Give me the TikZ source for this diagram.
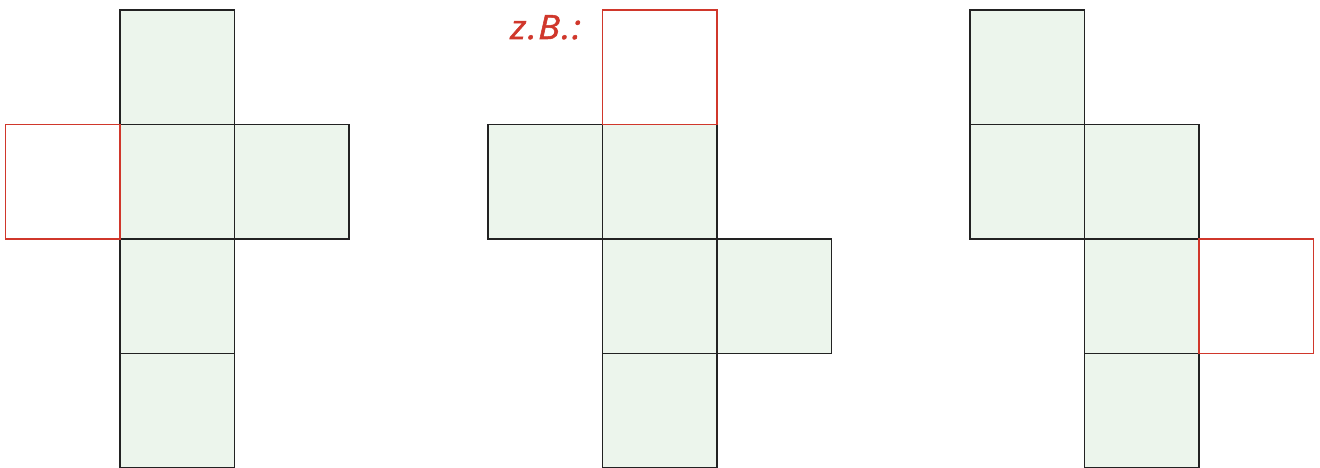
\documentclass[tikz,border=0pt]{standalone}
\usepackage{fontspec}
\newfontfamily\labelfont[LetterSpace=4,FakeBold=1.5]{Open Sans}
\definecolor{facegreen}{HTML}{ECF5EC}
\definecolor{netred}{HTML}{D0372B}
\definecolor{edgegray}{HTML}{222222}
\begin{document}
\begin{tikzpicture}[x=1pt,y=-1pt,
  face/.style={draw=edgegray,fill=facegreen,line width=1.3pt,minimum size=114.5pt,inner sep=0pt,outer sep=0pt},
  missing/.style={draw=netred,line width=1.3pt,minimum size=114.5pt,inner sep=0pt,outer sep=0pt}]
\useasboundingbox (0,0) rectangle (1320,468);
% first net
\node[face] (a1) at (177.2,67.2) {};
\node[face] (a2) at (177.2,181.7) {};
\node[face] (a3) at (291.7,181.7) {};
\node[face] (a4) at (177.2,296.2) {};
\node[face] (a5) at (177.2,410.7) {};
\node[missing] (a0) at (62.7,181.7) {};
% second net
\node[face] (b1) at (545.2,181.7) {};
\node[face] (b2) at (659.7,181.7) {};
\node[face] (b3) at (659.7,296.2) {};
\node[face] (b4) at (774.2,296.2) {};
\node[face] (b5) at (659.7,410.7) {};
\node[missing] (b0) at (659.7,67.2) {};
\node[anchor=base west,text=netred,font=\labelfont\itshape\fontsize{33.5}{33.5}\selectfont,inner sep=0pt,xscale=1.08] (zb) at (510,39) {z.B.:};
% third net
\node[face] (c1) at (1027.2,67.2) {};
\node[face] (c2) at (1027.2,181.7) {};
\node[face] (c3) at (1141.7,181.7) {};
\node[face] (c4) at (1141.7,296.2) {};
\node[face] (c5) at (1141.7,410.7) {};
\node[missing] (c0) at (1256.2,296.2) {};
\end{tikzpicture}
\end{document}
